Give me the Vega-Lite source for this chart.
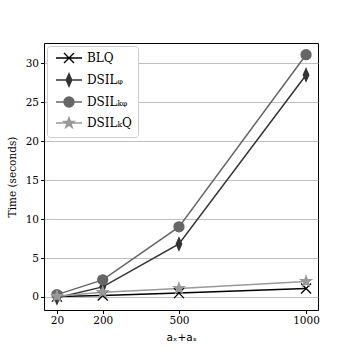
{
  "$schema": "https://vega.github.io/schema/vega-lite/v6.json",
  "autosize": {"type": "none"},
  "padding": {"left": 44, "top": 43, "right": 36, "bottom": 44},
  "width": 274,
  "height": 267,
  "background": "white",
  "config": {
    "view": {"stroke": "black", "strokeWidth": 1},
    "font": "DejaVu Serif",
    "axis": {"labelFont": "DejaVu Serif", "labelFontSize": 10.5, "labelColor": "black", "tickColor": "black", "tickSize": 3.5, "domain": false, "titleFont": "DejaVu Serif", "titleFontWeight": "normal", "titleFontSize": 10.5, "titleColor": "black"},
    "legend": {"labelFont": "DejaVu Serif", "labelFontSize": 12, "labelColor": "black"}
  },
  "data": {"values": [
    {"series": "BLQ", "x": 20, "t": 0.05},
    {"series": "BLQ", "x": 200, "t": 0.2},
    {"series": "BLQ", "x": 500, "t": 0.5},
    {"series": "BLQ", "x": 1000, "t": 1.1},
    {"series": "DSILᵩ", "x": 20, "t": -0.1},
    {"series": "DSILᵩ", "x": 200, "t": 1.3},
    {"series": "DSILᵩ", "x": 500, "t": 6.8},
    {"series": "DSILᵩ", "x": 1000, "t": 28.5},
    {"series": "DSILₖᵩ", "x": 20, "t": 0.3},
    {"series": "DSILₖᵩ", "x": 200, "t": 2.2},
    {"series": "DSILₖᵩ", "x": 500, "t": 9.0},
    {"series": "DSILₖᵩ", "x": 1000, "t": 31.1},
    {"series": "DSILₖQ", "x": 20, "t": 0.1},
    {"series": "DSILₖQ", "x": 200, "t": 0.6},
    {"series": "DSILₖQ", "x": 500, "t": 1.1},
    {"series": "DSILₖQ", "x": 1000, "t": 2.0}
  ]},
  "encoding": {
    "x": {"field": "x", "type": "quantitative", "scale": {"domain": [-31, 1047], "nice": false, "zero": false},
      "axis": {"values": [20, 200, 500, 1000], "format": "d", "grid": false, "title": "aₓ+aₛ", "titleFont": "DejaVu Sans", "titlePadding": 6}},
    "y": {"field": "t", "type": "quantitative", "scale": {"domain": [-1.67, 32.6], "nice": false, "zero": false},
      "axis": {"values": [0, 5, 10, 15, 20, 25, 30], "grid": true, "gridColor": "#b0b0b0", "gridWidth": 0.8, "title": "Time (seconds)", "titlePadding": 8}}
  },
  "layer": [
    {
      "mark": {"type": "line", "strokeWidth": 1.5},
      "encoding": {
        "stroke": {"field": "series", "type": "nominal", "scale": {"domain": ["BLQ", "DSILᵩ", "DSILₖᵩ", "DSILₖQ"], "range": ["#000000", "#333333", "#666666", "#999999"]}, "legend": {"title": null}}
      }
    },
    {
      "mark": {"type": "point", "filled": true, "opacity": 1, "size": 100, "strokeWidth": 1.3},
      "encoding": {
        "shape": {"condition": [
          {"test": "datum.series === 'BLQ'", "value": "M-1,-1L1,1M-1,1L1,-1"},
          {"test": "datum.series === 'DSILᵩ'", "value": "M0,-1.25L0.55,0L0,1.25L-0.55,0Z"},
          {"test": "datum.series === 'DSILₖQ'", "value": "M0,-1.1L0.26,-0.36L1.05,-0.34L0.42,0.13L0.65,0.89L0,0.44L-0.65,0.89L-0.42,0.13L-1.05,-0.34L-0.26,-0.36Z"}
        ], "value": "circle"},
        "fill": {"field": "series", "type": "nominal", "scale": {"domain": ["BLQ", "DSILᵩ", "DSILₖᵩ", "DSILₖQ"], "range": ["#000000", "#333333", "#666666", "#999999"]}, "legend": {"title": null}},
        "stroke": {"field": "series", "type": "nominal", "legend": {"title": null}}
      }
    },
    {
      "mark": {"type": "point", "filled": true, "opacity": 0, "size": 100, "strokeWidth": 1.3},
      "encoding": {
        "shape": {"field": "series", "type": "nominal", "scale": {"domain": ["BLQ", "DSILᵩ", "DSILₖᵩ", "DSILₖQ"], "range": [
          "M-2.6,0L2.6,0M-1,-1L1,1M-1,1L1,-1",
          "M-2.6,0L2.6,0M0,-1.25L0.55,0L0,1.25L-0.55,0Z",
          "M-2.6,0L2.6,0M1,0A1,1,0,1,1,-1,0A1,1,0,1,1,1,0Z",
          "M-2.6,0L2.6,0M0,-1.1L0.26,-0.36L1.05,-0.34L0.42,0.13L0.65,0.89L0,0.44L-0.65,0.89L-0.42,0.13L-1.05,-0.34L-0.26,-0.36Z"
        ]}, "legend": {"title": null, "orient": "top-left", "offset": 3, "symbolSize": 100, "symbolStrokeWidth": 1.4, "symbolOpacity": 1, "symbolOffset": 10, "labelOffset": 12, "rowPadding": 4, "padding": 6, "strokeColor": "#cccccc", "fillColor": "white", "cornerRadius": 3}},
        "fill": {"field": "series", "type": "nominal", "legend": {"title": null}},
        "stroke": {"field": "series", "type": "nominal", "legend": {"title": null}}
      }
    }
  ]
}
